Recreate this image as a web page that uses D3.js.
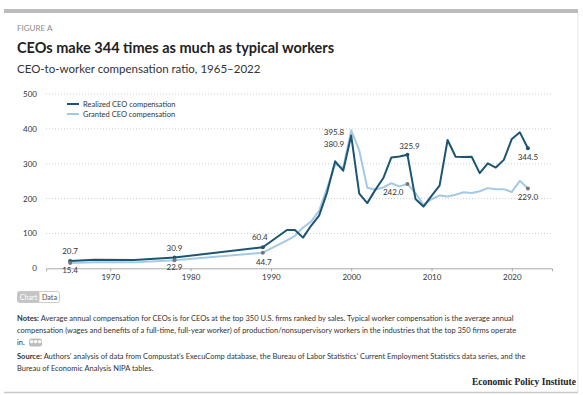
<!DOCTYPE html>
<html>
<head>
<meta charset="utf-8">
<script src="https://cdn.jsdelivr.net/npm/d3@7"></script>
<style>
  body { margin: 0; background: #fff; }
  svg { display: block; font-family: Lato, "Open Sans", sans-serif; }
</style>
</head>
<body>
<div id="wrapper"></div>
<script>
// data
const years = [1965, 1968, 1973, 1978, 1989, 1992, 1993, 1994, 1995, 1996, 1997, 1998, 1999,
  2000, 2001, 2002, 2003, 2004, 2005, 2006, 2007, 2008, 2009, 2010, 2011, 2012, 2013,
  2014, 2015, 2016, 2017, 2018, 2019, 2020, 2021, 2022];
const realized = [20.7, 24.5, 23.5, 30.9, 60.4, 110, 110, 88, 122, 151, 218, 307, 280,
  380.9, 214, 187, 225, 259, 318, 321, 325.9, 199, 177, 208, 237, 368, 320,
  319, 320, 273, 301, 289, 311, 371, 390, 344.5];
const granted = [15.4, 17.5, 17.0, 22.9, 44.7, 80, 93, 117, 134, 165, 231, 298, 288,
  395.8, 338, 231, 226, 232, 244, 235, 242.0, 216, 182, 198, 209, 206, 211,
  218, 216, 221, 230, 227, 227, 219, 251, 229.0];
const yTicks = [0, 100, 200, 300, 400, 500];
const xTicks = [1970, 1980, 1990, 2000, 2010, 2020];
const seriesNames = ["Realized CEO compensation", "Granted CEO compensation"];
// labelled points: [year, series, text]
const callouts = [
  [1965, 0, "20.7"], [1965, 1, "15.4"], [1978, 0, "30.9"], [1978, 1, "22.9"],
  [1989, 0, "60.4"], [1989, 1, "44.7"], [2000, 1, "395.8"], [2000, 0, "380.9"],
  [2007, 0, "325.9"], [2007, 1, "242.0"], [2022, 0, "344.5"], [2022, 1, "229.0"]
];

const darkBlue = "#1c5573";
const lightBlue = "#a4c9e6";

const W = 583, H = 395;
const svg = d3.select("#wrapper").append("svg").attr("width", W).attr("height", H);

// card frame
svg.append("rect").attr("x", 4).attr("y", 9).attr("width", 574).attr("height", 4).attr("fill", "#bcbcbc");
svg.append("line").attr("x1", 578).attr("x2", 578).attr("y1", 13).attr("y2", 392).attr("stroke", "#e6e6e6");
svg.append("line").attr("x1", 4).attr("x2", 578).attr("y1", 392.5).attr("y2", 392.5).attr("stroke", "#c8c8c8").attr("stroke-width", 1.5);

svg.append("text").attr("x", 17).attr("y", 31).attr("font-size", 8).attr("fill", "#8a8a8a")
  .text("FIGURE A");
svg.append("text").attr("x", 17).attr("y", 53).attr("font-size", 14.5).attr("font-weight", 700).attr("fill", "#222")
  .text("CEOs make 344 times as much as typical workers");
svg.append("text").attr("x", 17).attr("y", 73).attr("font-size", 11.5).attr("fill", "#333")
  .text("CEO-to-worker compensation ratio, 1965\u20132022");

const x = d3.scaleLinear().domain([1962, 2025]).range([46, 552]);
const y = d3.scaleLinear().domain([0, 500]).range([268.3, 94]);

// gridlines
svg.append("g").selectAll("line").data(yTicks.filter(d => d > 0)).join("line")
  .attr("x1", x(1962)).attr("x2", x(2025))
  .attr("y1", d => y(d)).attr("y2", d => y(d))
  .attr("stroke", "#cfcfcf").attr("stroke-dasharray", "1,2");

// y axis labels
svg.append("g").selectAll("text").data(yTicks).join("text")
  .attr("x", 37).attr("y", d => y(d) + 3).attr("text-anchor", "end")
  .attr("font-size", 8).attr("fill", "#333").text(d => d);

// x axis
const xAxis = svg.append("g").attr("transform", `translate(0,${y(0)})`)
  .call(d3.axisBottom(x).tickValues(xTicks).tickFormat(d3.format("d")).tickSize(3).tickPadding(3));
xAxis.select(".domain").attr("stroke", "#aaa");
xAxis.selectAll(".tick line").attr("stroke", "#aaa");
xAxis.selectAll(".tick text").attr("font-size", 8).attr("fill", "#333").attr("font-family", "Lato, sans-serif");

const rows = years.map((yr, i) => ({ year: yr, v: [realized[i], granted[i]] }));
const line = k => d3.line().x(d => x(d.year)).y(d => y(d.v[k]));

svg.append("path").datum(rows).attr("d", line(1)).attr("fill", "none")
  .attr("stroke", lightBlue).attr("stroke-width", 2).attr("stroke-linejoin", "round");
svg.append("path").datum(rows).attr("d", line(0)).attr("fill", "none")
  .attr("stroke", darkBlue).attr("stroke-width", 2).attr("stroke-linejoin", "round");

// markers + labels
const labelOffset = {
  "20.7": [0, -7, "middle"], "15.4": [0, 10, "middle"],
  "30.9": [0, -7, "middle"], "22.9": [0, 10, "middle"],
  "60.4": [-3, -7, "middle"], "44.7": [1, 12, "middle"],
  "395.8": [-7, 3, "end"], "380.9": [-7, 3, "end"],
  "325.9": [2, -6, "middle"], "242.0": [-4, 11, "end"],
  "344.5": [0, 12, "middle"], "229.0": [0, 12, "middle"]
};
callouts.forEach(([yr, k, txt]) => {
  const i = years.indexOf(yr);
  const cx = x(yr), cy = y(k === 0 ? realized[i] : granted[i]);
  if (yr !== 2000) {
    svg.append("circle").attr("cx", cx).attr("cy", cy).attr("r", 2)
      .attr("fill", k === 0 ? darkBlue : "#777");
  }
  const o = labelOffset[txt];
  let ty = cy + o[1];
  if (yr === 2000) ty = k === 1 ? y(395.8) + 5 : y(395.8) + 17;
  svg.append("text").attr("x", cx + o[0]).attr("y", ty).attr("text-anchor", o[2])
    .attr("font-size", 8).attr("fill", "#333").text(txt);
});

// legend
const legend = svg.append("g").attr("transform", "translate(67,104)");
seriesNames.forEach((name, i) => {
  legend.append("line").attr("x1", 0).attr("x2", 12).attr("y1", i * 10).attr("y2", i * 10)
    .attr("stroke", i === 0 ? darkBlue : lightBlue).attr("stroke-width", 2);
  legend.append("text").attr("x", 16).attr("y", i * 10 + 2.8).attr("font-size", 7.5)
    .attr("fill", "#333").text(name);
});

// Chart / Data toggle
svg.append("rect").attr("x", 17.5).attr("y", 291.5).attr("width", 42).attr("height", 11).attr("rx", 2)
  .attr("fill", "#fff").attr("stroke", "#ccc");
svg.append("rect").attr("x", 17.5).attr("y", 291.5).attr("width", 22).attr("height", 11).attr("rx", 2)
  .attr("fill", "#c4c4c4");
svg.append("text").attr("x", 28.5).attr("y", 299.5).attr("text-anchor", "middle").attr("font-size", 7.2)
  .attr("fill", "#fff").text("Chart");
svg.append("text").attr("x", 49.5).attr("y", 299.5).attr("text-anchor", "middle").attr("font-size", 7.2)
  .attr("fill", "#555").text("Data");

// notes and source
const notes = [
  [["Notes: ", 700], ["Average annual compensation for CEOs is for CEOs at the top 350 U.S. firms ranked by sales. Typical worker compensation is the average annual", 400]],
  [["compensation (wages and benefits of a full-time, full-year worker) of production/nonsupervisory workers in the industries that the top 350 firms operate", 400]],
  [["in.", 400]],
  [["Source: ", 700], ["Authors\u2019 analysis of data from Compustat\u2019s ExecuComp database, the Bureau of Labor Statistics\u2019 Current Employment Statistics data series, and the", 400]],
  [["Bureau of Economic Analysis NIPA tables.", 400]]
];
const noteY = [321, 333, 345, 359, 371];
notes.forEach((parts, i) => {
  const t = svg.append("text").attr("x", 17).attr("y", noteY[i]).attr("font-size", 7.5).attr("fill", "#333");
  parts.forEach(([s, w]) => t.append("tspan").attr("font-weight", w).text(s));
});
// "..." pill after "in."
svg.append("rect").attr("x", 29).attr("y", 338.5).attr("width", 13).attr("height", 8).attr("rx", 2.5).attr("fill", "#bdbdbd");
svg.append("text").attr("x", 35.5).attr("y", 344).attr("text-anchor", "middle").attr("font-size", 7)
  .attr("font-weight", 700).attr("fill", "#fff").text("\u2022\u2022\u2022");

svg.append("text").attr("x", 576).attr("y", 385).attr("text-anchor", "end")
  .attr("font-family", "'Liberation Serif', 'DejaVu Serif', serif").attr("font-weight", 700)
  .attr("font-size", 9.5).attr("fill", "#222").text("Economic Policy Institute");
</script>
</body>
</html>
